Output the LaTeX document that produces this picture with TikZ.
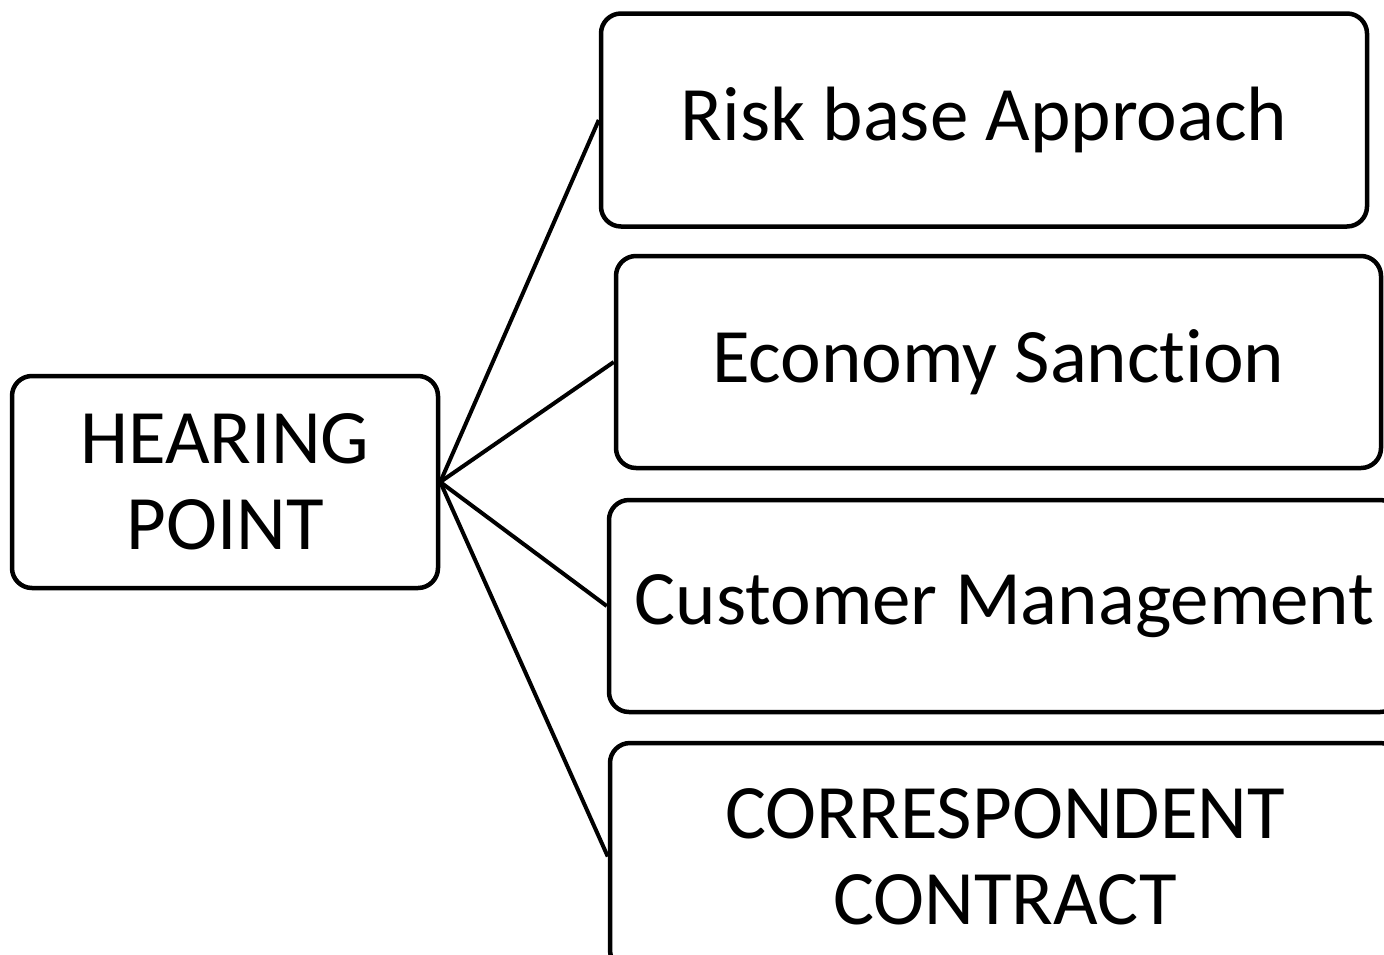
\documentclass[tikz,border=0pt]{standalone}
\usepackage{fontspec}
\setmainfont{Carlito}[Ligatures={NoCommon}]
\begin{document}
\begin{tikzpicture}[x=1pt,y=-1pt,
  box/.style={draw=black, line width=4.5pt, rounded corners=20pt, fill=white,
    align=center, inner sep=0pt, font=\fontsize{77}{86}\selectfont},
  link/.style={draw=black, line width=4pt}]
\useasboundingbox (0,0) rectangle (1384,954);
\clip (0,0) rectangle (1384,954);
\node[box, minimum width=426pt, minimum height=212pt] (hp) at (225,482) {HEARING\\POINT};
\node[box, minimum width=766pt, minimum height=213pt] (risk) at (984,120) {Risk base Approach};
\node[box, minimum width=765pt, minimum height=212pt] (eco) at (998.5,362) {Economy Sanction};
\node[box, minimum width=791pt, minimum height=212pt] (cust) at (1004.5,606) {Customer Management};
\node[box, minimum width=790pt, minimum height=227pt] (corr) at (1005,856.5) {CORRESPONDENT\\CONTRACT};
\draw[link] (hp.east) -- (risk.west);
\draw[link] (hp.east) -- (eco.west);
\draw[link] (hp.east) -- (cust.west);
\draw[link] (hp.east) -- (corr.west);
\end{tikzpicture}
\end{document}
